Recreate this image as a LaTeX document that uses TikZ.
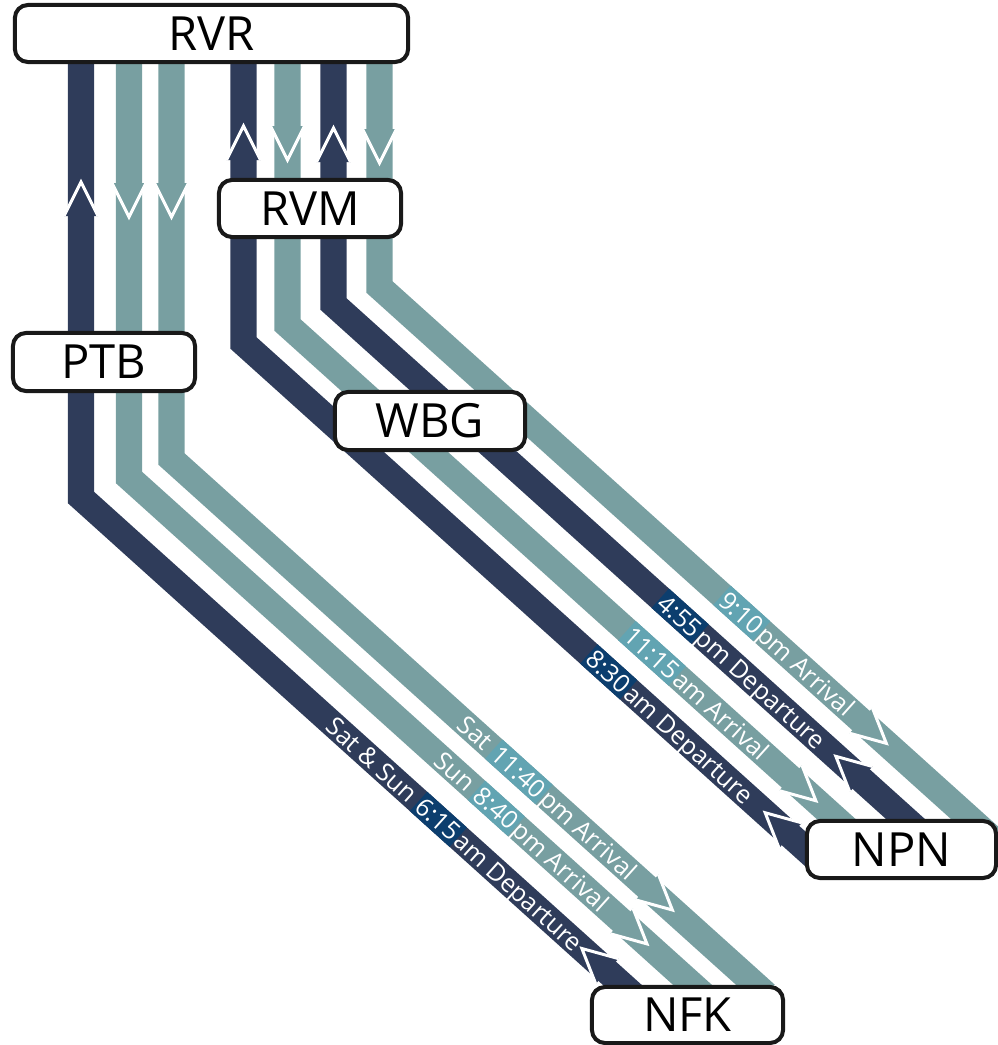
\documentclass[tikz,border=0pt]{standalone}
\usepackage{fontspec}
\setmainfont{Open Sans}
\usetikzlibrary{calc}

\definecolor{strandblue}{RGB}{47,60,90}
\definecolor{strandteal}{RGB}{120,159,161}
\definecolor{timenavy}{RGB}{12,62,110}
\definecolor{timeteal}{RGB}{98,164,178}

% time highlight, as tall as a strand
\newcommand{\navytime}[1]{{\fboxsep=0pt\colorbox{timenavy}{\rule[-0.04cm]{0pt}{0.26cm}\kern0.02cm#1\kern0.02cm}}}
\newcommand{\tealtime}[1]{{\fboxsep=0pt\colorbox{timeteal}{\rule[-0.04cm]{0pt}{0.26cm}\kern0.02cm#1\kern0.02cm}}}

% arrow head on a strand: apex, direction, colour
\newcommand{\strandtip}[3]{%
  \begin{scope}[shift={#1}, rotate=#2]
    \fill[#3] (0,0) -- (-34,17) -- (-34,-17) -- cycle;
    \draw[white, line width=0.03cm, line join=miter] (-34,17) -- (0,0) -- (-34,-17);
  \end{scope}}

\tikzset{
  strand/.style={line width=0.26cm, line join=miter},
  dkstrand/.style={strand, draw=strandblue},
  ltstrand/.style={strand, draw=strandteal},
  station/.style={draw=black!90, line width=0.04cm, rounded corners=0.13cm, fill=white,
    inner sep=0pt, font=\fontsize{13.4pt}{15pt}\selectfont},
  lbl/.style={anchor=west, rotate=-42, text=white, inner sep=0pt,
    text height=0.22cm, text depth=0.04cm, font=\fontsize{7.1pt}{8pt}\selectfont}
}

\begin{document}
\begin{tikzpicture}[x=0.01cm, y=0.01cm]
    \useasboundingbox (0,0) rectangle (998,-1045);

    % bends
    \coordinate (bl1) at (81,-497.5);
    \coordinate (bl2) at (129,-477.5);
    \coordinate (bl3) at (171.5,-459);
    \coordinate (br1) at (243.5,-343);
    \coordinate (br2) at (287.5,-325);
    \coordinate (br3) at (333.5,-304);
    \coordinate (br4) at (379.5,-287);

%PTB line to NFK
    \begin{scope}
    \clip (0,0) rectangle (998,-987);
    \draw[dkstrand] (81,-40) -- (bl1) -- ($(bl1)+(-42:800)$);
    \draw[ltstrand] (129,-40) -- (bl2) -- ($(bl2)+(-42:800)$);
    \draw[ltstrand] (171.5,-40) -- (bl3) -- ($(bl3)+(-42:800)$);
    \end{scope}

%RVM and WBG line to NPN
    \begin{scope}
    \clip (0,0) rectangle (998,-877);
    \draw[dkstrand] (243.5,-40) -- (br1) -- ($(br1)+(-42:900)$);
    \draw[ltstrand] (287.5,-40) -- (br2) -- ($(br2)+(-42:900)$);
    \draw[dkstrand] (333.5,-40) -- (br3) -- ($(br3)+(-42:900)$);
    \draw[ltstrand] (379.5,-40) -- (br4) -- ($(br4)+(-42:900)$);
    \end{scope}

    % arrow heads
    \foreach \x/\y/\a/\c in {81/-182/90/strandblue, 129/-217/-90/strandteal,
        171.5/-217/-90/strandteal, 243.5/-126/90/strandblue, 287.5/-160/-90/strandteal,
        333.5/-128/90/strandblue, 379.5/-163/-90/strandteal} {
        \strandtip{(\x,\y)}{\a}{\c}
    }
    \foreach \b/\s/\a/\c in {br4/682/-42/strandteal, br3/676/138/strandblue,
        br2/711/-42/strandteal, br1/702/138/strandblue, bl3/674/-42/strandteal,
        bl2/697/-42/strandteal, bl1/674/138/strandblue} {
        \strandtip{($(\b)+(-42:\s)$)}{\a}{\c}
    }

    % times
    \node[lbl] (arr910) at ($(br4)+(-42:460)$) {\tealtime{9:10}pm Arrival};
    \node[lbl] (dep455) at ($(br3)+(-42:439)$) {\navytime{4:55}pm Departure};
    \node[lbl] (arr1115) at ($(br2)+(-42:456)$) {\tealtime{11:15}am Arrival};
    \node[lbl] (dep830) at ($(br1)+(-42:464)$) {\navytime{8:30}am Departure};
    \node[lbl] (arr1140) at ($(bl3)+(-42:390)$) {Sat \tealtime{11:40}pm Arrival};
    \node[lbl] (arr840) at ($(bl2)+(-42:416)$) {Sun \tealtime{8:40}pm Arrival};
    \node[lbl] (dep615) at ($(bl1)+(-42:335)$) {Sat \& Sun \navytime{6:15}am Departure};

    % stations
    \node[station, minimum width=3.93cm, minimum height=0.57cm] (rvr) at (211.5,-33.5) {RVR};
    \node[station, minimum width=1.82cm, minimum height=0.57cm] (rvm) at (310,-208.5) {RVM};
    \node[station, minimum width=1.82cm, minimum height=0.58cm] (ptb) at (104,-362) {PTB};
    \node[station, minimum width=1.90cm, minimum height=0.58cm] (wbg) at (430,-421) {WBG};
    \node[station, minimum width=1.89cm, minimum height=0.57cm] (npn) at (901.5,-849.5) {NPN};
    \node[station, minimum width=1.91cm, minimum height=0.56cm] (nfk) at (687.5,-1015) {NFK};

\end{tikzpicture}
\end{document}
